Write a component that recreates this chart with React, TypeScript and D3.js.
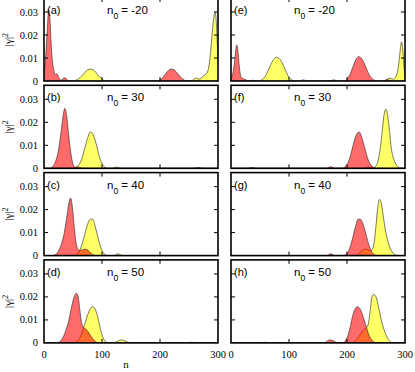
import React from "react";
import * as d3 from "d3";

type Pt = [number, number];

// (a) n0 = -20, left
const redA: Pt[] = [[0, 0.003], [3, 0.011], [6, 0.024], [8, 0.031], [10, 0.028], [12, 0.018], [14, 0.01], [16, 0.006], [18, 0.0035], [20, 0.0028], [22, 0.0032], [25, 0.002], [28, 0.0005], [31, 0.0004], [34, 0.0013], [37, 0.0013], [40, 0.0004], [44, 0], [195, 0], [200, 0.0005], [205, 0.0015], [210, 0.0033], [215, 0.0047], [220, 0.0052], [225, 0.0047], [230, 0.0034], [235, 0.0018], [240, 0.0007], [245, 0.0001], [250, 0], [300, 0]];
const yellowA: Pt[] = [[0, 0], [50, 0], [55, 0.0003], [60, 0.001], [65, 0.0022], [70, 0.0036], [75, 0.0048], [80, 0.0052], [85, 0.0048], [90, 0.0036], [95, 0.002], [100, 0.0008], [105, 0.0001], [110, 0], [252, 0], [257, 0.0004], [261, 0.0013], [265, 0.001], [269, 0.0008], [273, 0.0018], [277, 0.0026], [281, 0.0035], [284, 0.006], [287, 0.012], [290, 0.021], [293, 0.028], [295, 0.030], [297, 0.026], [299, 0.015], [300, 0.009]];

// (b) n0 = 30, left
const redB: Pt[] = [[0, 0], [10, 0], [15, 0.0008], [20, 0.003], [25, 0.008], [30, 0.017], [33, 0.023], [36, 0.026], [39, 0.023], [42, 0.016], [45, 0.009], [48, 0.004], [51, 0.0012], [54, 0.0004], [58, 0.0006], [62, 0.0004], [66, 0], [300, 0]];
const yellowB: Pt[] = [[0, 0], [50, 0], [55, 0.0004], [60, 0.0015], [65, 0.004], [70, 0.0085], [75, 0.013], [80, 0.0158], [85, 0.0145], [90, 0.0105], [95, 0.0055], [100, 0.002], [105, 0.0005], [110, 0], [118, 0], [125, 0.0006], [132, 0], [258, 0], [266, 0.0004], [274, 0], [300, 0]];

// (c) n0 = 40, left
const redC: Pt[] = [[0, 0], [15, 0], [20, 0.0005], [25, 0.002], [30, 0.005], [35, 0.01], [40, 0.018], [43, 0.023], [46, 0.025], [49, 0.021], [52, 0.013], [55, 0.006], [58, 0.003], [62, 0.0022], [66, 0.0025], [70, 0.0028], [74, 0.0026], [78, 0.0018], [82, 0.0008], [86, 0.0002], [90, 0], [300, 0]];
const yellowC: Pt[] = [[0, 0], [52, 0], [56, 0.0005], [60, 0.0015], [65, 0.0045], [70, 0.009], [75, 0.0135], [80, 0.0158], [84, 0.0158], [88, 0.013], [92, 0.009], [96, 0.005], [100, 0.0022], [104, 0.0007], [108, 0.0001], [112, 0], [120, 0], [128, 0.0008], [136, 0], [300, 0]];

// (d) n0 = 50, left
const redD: Pt[] = [[0, 0], [22, 0], [27, 0.0005], [32, 0.002], [37, 0.005], [42, 0.009], [47, 0.015], [52, 0.02], [56, 0.0216], [59, 0.02], [62, 0.014], [65, 0.0085], [68, 0.0068], [72, 0.006], [76, 0.0048], [80, 0.0033], [84, 0.0018], [88, 0.0007], [92, 0.0001], [96, 0], [300, 0]];
const yellowD: Pt[] = [[0, 0], [52, 0], [56, 0.0005], [60, 0.0015], [65, 0.004], [70, 0.008], [75, 0.012], [80, 0.015], [84, 0.0157], [88, 0.0148], [92, 0.012], [96, 0.0075], [100, 0.0035], [104, 0.0012], [108, 0.0002], [112, 0], [120, 0], [126, 0.0006], [131, 0.0012], [135, 0.0013], [140, 0.0008], [146, 0.0002], [150, 0], [248, 0], [255, 0.0003], [262, 0], [300, 0]];

// (e) n0 = -20, right
const redE: Pt[] = [[0, 0.001], [3, 0.003], [6, 0.008], [8, 0.013], [10, 0.0157], [12, 0.013], [14, 0.007], [16, 0.003], [18, 0.0015], [21, 0.001], [24, 0.0008], [27, 0.0003], [30, 0], [34, 0], [38, 0.0004], [42, 0], [170, 0], [177, 0.0005], [184, 0], [196, 0], [200, 0.0008], [205, 0.0028], [210, 0.006], [215, 0.0092], [220, 0.0106], [225, 0.0098], [230, 0.0075], [235, 0.0045], [240, 0.002], [245, 0.0007], [250, 0.0001], [255, 0], [264, 0], [270, 0.0006], [276, 0], [300, 0]];
const yellowE: Pt[] = [[0, 0], [48, 0], [53, 0.0005], [58, 0.0017], [63, 0.004], [68, 0.0068], [73, 0.0092], [78, 0.0103], [83, 0.0098], [88, 0.008], [93, 0.0052], [98, 0.0025], [103, 0.0008], [108, 0.0001], [112, 0], [118, 0], [125, 0.0005], [132, 0], [262, 0], [268, 0.0006], [274, 0.0012], [279, 0.0008], [283, 0.0015], [287, 0.004], [290, 0.009], [292, 0.014], [294, 0.017], [296, 0.014], [298, 0.007], [300, 0.002]];

// (f) n0 = 30, right
const redF: Pt[] = [[0, 0], [28, 0], [36, 0.0004], [44, 0], [165, 0], [172, 0.0007], [179, 0], [192, 0], [196, 0.0006], [201, 0.002], [206, 0.0055], [211, 0.0105], [216, 0.0145], [221, 0.0158], [226, 0.013], [231, 0.0085], [236, 0.004], [241, 0.0015], [245, 0.0005], [250, 0], [300, 0]];
const yellowF: Pt[] = [[0, 0], [230, 0], [236, 0.0006], [241, 0.0004], [246, 0.0002], [249, 0.0008], [252, 0.002], [255, 0.005], [258, 0.01], [261, 0.017], [264, 0.0235], [267, 0.0257], [270, 0.023], [273, 0.017], [276, 0.0095], [280, 0.0045], [285, 0.0015], [290, 0.0003], [295, 0], [300, 0]];

// (g) n0 = 40, right
const redG: Pt[] = [[0, 0], [165, 0], [172, 0.0008], [179, 0], [191, 0], [195, 0.0001], [199, 0.0007], [203, 0.0022], [207, 0.005], [211, 0.009], [215, 0.013], [219, 0.0158], [223, 0.0158], [228, 0.0135], [233, 0.009], [238, 0.0045], [243, 0.0015], [247, 0.0005], [251, 0], [300, 0]];
const yellowG: Pt[] = [[0, 0], [212, 0], [216, 0.0002], [220, 0.0008], [224, 0.0018], [228, 0.0026], [232, 0.0028], [236, 0.0025], [240, 0.0022], [244, 0.003], [247, 0.006], [250, 0.013], [253, 0.021], [256, 0.0244], [259, 0.023], [262, 0.018], [267, 0.01], [272, 0.005], [277, 0.002], [282, 0.0005], [287, 0], [300, 0]];

// (h) n0 = 50, right
const redH: Pt[] = [[0, 0], [52, 0], [58, 0.0003], [64, 0], [160, 0], [165, 0.0006], [170, 0.0013], [175, 0.0011], [180, 0.0004], [185, 0], [190, 0], [194, 0.0002], [198, 0.0012], [202, 0.0035], [206, 0.0075], [210, 0.012], [214, 0.0148], [218, 0.0157], [222, 0.015], [227, 0.012], [232, 0.008], [237, 0.004], [242, 0.0015], [246, 0.0005], [250, 0], [300, 0]];
const yellowH: Pt[] = [[0, 0], [206, 0], [210, 0.0001], [214, 0.0007], [218, 0.0018], [222, 0.0033], [226, 0.0048], [230, 0.006], [234, 0.0068], [237, 0.0085], [240, 0.014], [243, 0.02], [246, 0.0211], [250, 0.02], [255, 0.015], [260, 0.009], [265, 0.005], [270, 0.002], [275, 0.0005], [280, 0], [300, 0]];

const panelLabels = ["(a)", "(b)", "(c)", "(d)", "(e)", "(f)", "(g)", "(h)"];
const n0Values = ["-20", "30", "40", "50", "-20", "30", "40", "50"];
const xTicks = [0, 100, 200, 300];
const yTicks = [0, 0.01, 0.02, 0.03];

const reds = [redA, redB, redC, redD, redE, redF, redG, redH];
const yellows = [yellowA, yellowB, yellowC, yellowD, yellowE, yellowF, yellowG, yellowH];

const W = 415;
const H = 372;
const colLeft = [44, 231];
const panelW = 174;
const panelH = 83;
const rowTop = (i: number) => -2 + i * 87.3;

const serif = "'Liberation Serif', 'DejaVu Serif', serif";
const sans = "'Liberation Sans', Arial, sans-serif";

function Panel({ idx }: { idx: number }) {
  const col = Math.floor(idx / 4);
  const row = idx % 4;
  const left = colLeft[col];
  const top = rowTop(row);
  const x = d3.scaleLinear().domain([0, 300]).range([left, left + panelW]);
  const y = d3.scaleLinear().domain([0, 0.0361]).range([top + panelH, top]);
  const area = d3
    .area<Pt>()
    .x((d) => x(d[0]))
    .y0(y(0))
    .y1((d) => y(d[1]))
    .curve(d3.curveMonotoneX);
  const line = d3
    .line<Pt>()
    .x((d) => x(d[0]))
    .y((d) => y(d[1]))
    .curve(d3.curveMonotoneX);
  const clipId = `clip-${idx}`;
  const isBottom = row === 3;
  return (
    <g>
      <clipPath id={clipId}>
        <rect x={left} y={top} width={panelW} height={panelH} />
      </clipPath>
      <g clipPath={`url(#${clipId})`}>
        <path d={area(yellows[idx]) || ""} fill="rgb(255,255,0)" fillOpacity={0.6} />
        <path d={line(yellows[idx]) || ""} fill="none" stroke="#222" strokeWidth={0.6} />
        <path d={area(reds[idx]) || ""} fill="rgb(255,0,0)" fillOpacity={0.58} />
        <path d={line(reds[idx]) || ""} fill="none" stroke="#222" strokeWidth={0.6} />
      </g>
      {/* inward ticks on all four sides */}
      {xTicks.slice(1, 3).map((t) => (
        <g key={"xt" + t} stroke="#000" strokeWidth={1}>
          <line x1={x(t)} x2={x(t)} y1={top + panelH} y2={top + panelH - 4} />
          <line x1={x(t)} x2={x(t)} y1={top} y2={top + 4} />
        </g>
      ))}
      {yTicks.slice(1).map((t) => (
        <g key={"yt" + t} stroke="#000" strokeWidth={1}>
          <line x1={left} x2={left + 4} y1={y(t)} y2={y(t)} />
          <line x1={left + panelW} x2={left + panelW - 4} y1={y(t)} y2={y(t)} />
        </g>
      ))}
      <rect x={left} y={top} width={panelW} height={panelH} fill="none" stroke="#000" strokeWidth={1.6} />
      {col === 0 &&
        yTicks.map((t) => (
          <text key={"yl" + t} x={left - 6} y={y(t) + 3.5} textAnchor="end" fontFamily={serif} fontSize={10.5}>
            {t === 0 ? "0" : t.toFixed(2)}
          </text>
        ))}
      {isBottom &&
        xTicks.map((t) => (
          <text key={"xl" + t} x={x(t)} y={top + panelH + 15} textAnchor="middle" fontFamily={serif} fontSize={10.5}>
            {t}
          </text>
        ))}
      {col === 0 && (
        <text
          transform={`translate(${left - 32},${top + panelH / 2}) rotate(-90)`}
          textAnchor="middle"
          fontFamily={serif}
          fontSize={11}
        >
          |γ|<tspan dy={-4} fontSize={8}>2</tspan>
        </text>
      )}
      <text x={left + 3} y={top + 16} fontFamily={sans} fontSize={11}>
        {panelLabels[idx]}
      </text>
      <text x={left + 63} y={top + 16} fontFamily={sans} fontSize={11.5}>
        n<tspan dy={5} fontSize={8.5}>0</tspan>
        <tspan dy={-5}> = {n0Values[idx]}</tspan>
      </text>
    </g>
  );
}

export default function App() {
  return (
    <svg
      width={W}
      height={H}
      style={{ position: "absolute", left: 0, top: 0, background: "#fff" }}
    >
      {panelLabels.map((_, i) => (
        <Panel key={i} idx={i} />
      ))}
      <text x={colLeft[0] + panelW / 2 - 5} y={368} textAnchor="middle" fontFamily={serif} fontSize={11}>
        n
      </text>
    </svg>
  );
}
